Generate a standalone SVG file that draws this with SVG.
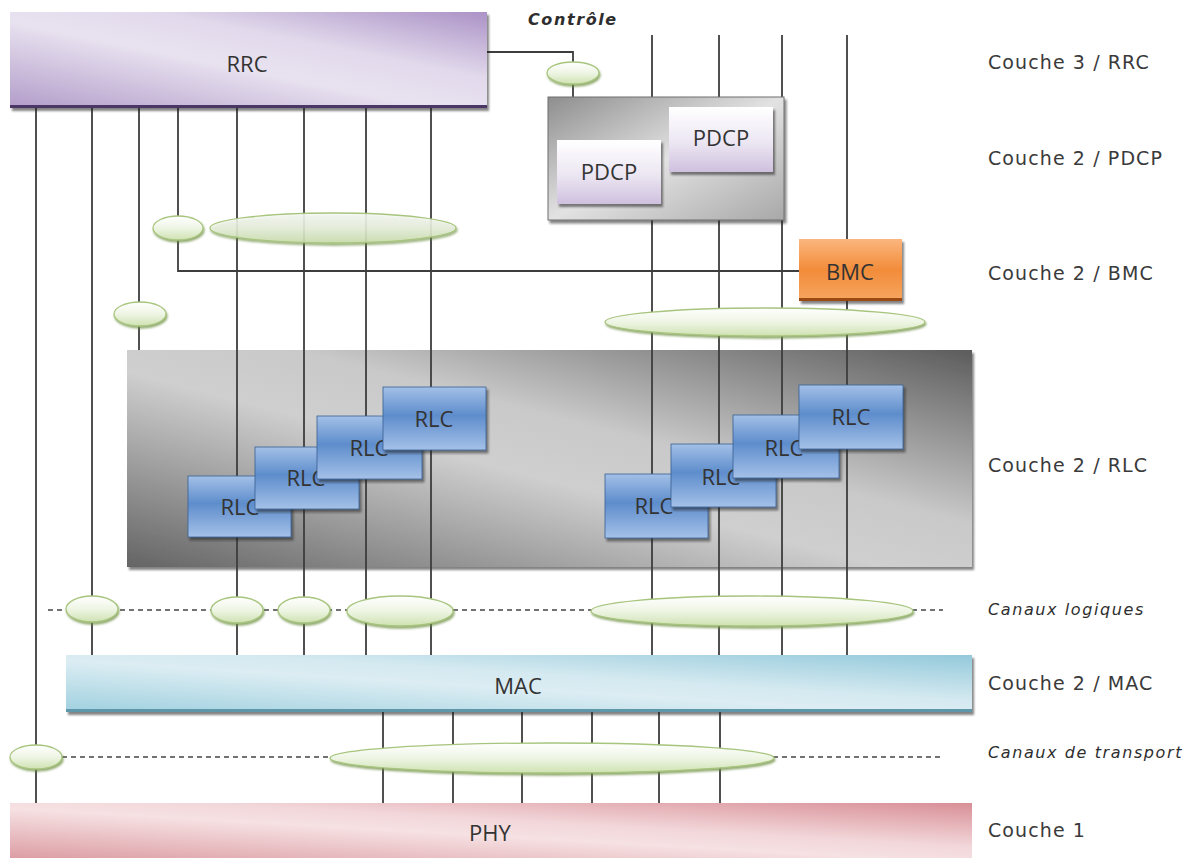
<svg xmlns="http://www.w3.org/2000/svg" width="1192" height="861" viewBox="0 0 1192 861">
<defs>
  <linearGradient id="gRRC" x1="0" y1="1" x2="1" y2="0">
    <stop offset="0" stop-color="#b29cc9"/>
    <stop offset="0.45" stop-color="#e8e2f0"/>
    <stop offset="0.65" stop-color="#e2daec"/>
    <stop offset="1" stop-color="#ab92c6"/>
  </linearGradient>
  <linearGradient id="gRLCArea" x1="0" y1="1" x2="1" y2="0">
    <stop offset="0" stop-color="#646464"/>
    <stop offset="0.45" stop-color="#cfcfcf"/>
    <stop offset="0.6" stop-color="#c9c9c9"/>
    <stop offset="1" stop-color="#5c5c5c"/>
  </linearGradient>
  <linearGradient id="gPDCPArea" x1="0" y1="0" x2="1" y2="1">
    <stop offset="0" stop-color="#8e8e8e"/>
    <stop offset="0.5" stop-color="#e2e2e2"/>
    <stop offset="1" stop-color="#a8a8a8"/>
  </linearGradient>
  <linearGradient id="gPDCP" x1="0" y1="0" x2="0" y2="1">
    <stop offset="0" stop-color="#ffffff"/>
    <stop offset="0.55" stop-color="#ece6f2"/>
    <stop offset="1" stop-color="#cfc0de"/>
  </linearGradient>
  <linearGradient id="gRLC" x1="0" y1="0" x2="0" y2="1">
    <stop offset="0" stop-color="#a3c0e7"/>
    <stop offset="0.45" stop-color="#5e8dcc"/>
    <stop offset="1" stop-color="#a4c1e8"/>
  </linearGradient>
  <linearGradient id="gBMC" x1="0" y1="0" x2="0" y2="1">
    <stop offset="0" stop-color="#fbb67e"/>
    <stop offset="0.5" stop-color="#f28c3a"/>
    <stop offset="1" stop-color="#f7a660"/>
  </linearGradient>
  <linearGradient id="gMAC" x1="0" y1="1" x2="1" y2="0">
    <stop offset="0" stop-color="#9fd0df"/>
    <stop offset="0.45" stop-color="#dcedf3"/>
    <stop offset="0.6" stop-color="#d4e9f0"/>
    <stop offset="1" stop-color="#93c9db"/>
  </linearGradient>
  <linearGradient id="gPHY" x1="0" y1="1" x2="1" y2="0">
    <stop offset="0" stop-color="#dc9ea4"/>
    <stop offset="0.45" stop-color="#f6e1e3"/>
    <stop offset="0.6" stop-color="#f2d7da"/>
    <stop offset="1" stop-color="#d88f96"/>
  </linearGradient>
  <linearGradient id="gEll" x1="0" y1="0" x2="0" y2="1">
    <stop offset="0" stop-color="#ffffff"/>
    <stop offset="0.5" stop-color="#eef5e4"/>
    <stop offset="1" stop-color="#cfe2b2"/>
  </linearGradient>
  <filter id="shBox" x="-5%" y="-10%" width="110%" height="130%">
    <feDropShadow dx="2" dy="3" stdDeviation="1.2" flood-color="#202020" flood-opacity="0.55"/>
  </filter>
  <filter id="shEll" x="-10%" y="-30%" width="120%" height="170%">
    <feDropShadow dx="1" dy="2" stdDeviation="1" flood-color="#6d8f40" flood-opacity="0.75"/>
  </filter>
  <style>
    .ln{stroke:#3d3d3d;stroke-width:1.8;fill:none}
    .dash{stroke:#444;stroke-width:1.6;stroke-dasharray:5 4;fill:none}
    .ell{fill:url(#gEll);stroke:#a8c57e;stroke-width:1.3;filter:url(#shEll)}
    .t{font-family:"Open Sans","Liberation Sans",sans-serif;fill:#333;text-anchor:middle;dominant-baseline:central}
    .big{font-size:22px}
    .lab{font-family:"DejaVu Sans","Liberation Sans",sans-serif;fill:#3a3a3a;font-size:19px;letter-spacing:1.1px;dominant-baseline:central}
    .it{font-family:"DejaVu Sans","Liberation Sans",sans-serif;fill:#2e2e2e;font-size:16px;font-style:italic;letter-spacing:1.6px;dominant-baseline:central}
    .rlc{fill:url(#gRLC);stroke:#3a5f92;stroke-width:0.8;filter:url(#shBox)}
  </style>
</defs>
<rect width="1192" height="861" fill="#ffffff"/>

<g id="rlc-area">
  <rect x="127" y="350" width="845" height="217" fill="url(#gRLCArea)" filter="url(#shBox)"/>
</g>

<g id="connectors">
  <path class="ln" d="M487,52 H573 V97"/>
  <path class="ln" d="M36,108 V803"/>
  <path class="ln" d="M92,108 V655"/>
  <path class="ln" d="M139,108 V350"/>
  <path class="ln" d="M178,108 V271 H799"/>
  <path class="ln" d="M237,108 V655"/>
  <path class="ln" d="M304,108 V655"/>
  <path class="ln" d="M366,108 V655"/>
  <path class="ln" d="M431,108 V655"/>
  <path class="ln" d="M652,35 V655"/>
  <path class="ln" d="M719,35 V655"/>
  <path class="ln" d="M782,35 V655"/>
  <path class="ln" d="M847,35 V655"/>
  <path class="ln" d="M383,712 V803"/>
  <path class="ln" d="M453,712 V803"/>
  <path class="ln" d="M522,712 V803"/>
  <path class="ln" d="M592,712 V803"/>
  <path class="ln" d="M659,712 V803"/>
  <path class="ln" d="M720,712 V803"/>
  <path class="dash" d="M48,610 H943"/>
  <path class="dash" d="M62,757 H943"/>
</g>

<g id="rrc">
  <rect x="10" y="12" width="477" height="96" fill="url(#gRRC)" filter="url(#shBox)"/>
  <rect x="10" y="105" width="477" height="3" fill="#4b3766"/>
  <text class="t big" x="247" y="63">RRC</text>
</g>

<g id="pdcp-area">
  <rect x="548" y="97" width="236" height="123" fill="url(#gPDCPArea)" stroke="#6e6e6e" stroke-width="1" filter="url(#shBox)"/>
</g>
<g id="pdcp-1">
  <rect x="557" y="140" width="104" height="64" fill="url(#gPDCP)" filter="url(#shBox)"/>
  <text class="t big" x="609" y="171">PDCP</text>
</g>
<g id="pdcp-2">
  <rect x="669" y="107" width="104" height="65" fill="url(#gPDCP)" filter="url(#shBox)"/>
  <text class="t big" x="721" y="137">PDCP</text>
</g>

<g id="bmc">
  <rect x="799" y="239" width="103" height="62" fill="url(#gBMC)" filter="url(#shBox)"/>
  <rect x="799" y="298" width="103" height="3" fill="#9a4a12"/>
  <text class="t big" x="850" y="271">BMC</text>
</g>

<g id="rlc-left-1"><rect class="rlc" x="188" y="476" width="103" height="61"/><text class="t big" x="240" y="506">RLC</text></g>
<g id="rlc-left-2"><rect class="rlc" x="255" y="447" width="104" height="62"/><text class="t big" x="306" y="477">RLC</text></g>
<g id="rlc-left-3"><rect class="rlc" x="317" y="416" width="105" height="63"/><text class="t big" x="369" y="447">RLC</text></g>
<g id="rlc-left-4"><rect class="rlc" x="383" y="387" width="103" height="63"/><text class="t big" x="434" y="418">RLC</text></g>

<g id="rlc-right-1"><rect class="rlc" x="605" y="474" width="103" height="64"/><text class="t big" x="654" y="505">RLC</text></g>
<g id="rlc-right-2"><rect class="rlc" x="671" y="444" width="105" height="63"/><text class="t big" x="721" y="476">RLC</text></g>
<g id="rlc-right-3"><rect class="rlc" x="733" y="415" width="106" height="63"/><text class="t big" x="784" y="447">RLC</text></g>
<g id="rlc-right-4"><rect class="rlc" x="799" y="385" width="104" height="64"/><text class="t big" x="851" y="416">RLC</text></g>

<g id="mac">
  <rect x="66" y="655" width="906" height="57" fill="url(#gMAC)" filter="url(#shBox)"/>
  <rect x="66" y="709" width="906" height="3" fill="#5f97aa"/>
  <text class="t big" x="518" y="685">MAC</text>
</g>

<g id="phy">
  <rect x="10" y="803" width="962" height="55" fill="url(#gPHY)"/>
  <text class="t big" x="490" y="832">PHY</text>
</g>

<g id="channels">
  <ellipse id="ch-control" class="ell" cx="573" cy="73" rx="26" ry="11"/>
  <ellipse id="ch-bmc-ctrl" class="ell" cx="178" cy="228" rx="25" ry="12"/>
  <ellipse id="ch-pdcp-left" class="ell" cx="333" cy="228" rx="123" ry="15" fill-opacity="0.8"/>
  <ellipse id="ch-rlc-ctrl" class="ell" cx="140" cy="314" rx="26" ry="12"/>
  <ellipse id="ch-pdcp-right" class="ell" cx="765" cy="322" rx="160" ry="14"/>
  <ellipse id="lc-1" class="ell" cx="92" cy="609" rx="26" ry="13"/>
  <ellipse id="lc-2" class="ell" cx="237" cy="610" rx="26" ry="13"/>
  <ellipse id="lc-3" class="ell" cx="304" cy="610" rx="26" ry="13"/>
  <ellipse id="lc-4" class="ell" cx="400" cy="611" rx="53" ry="15"/>
  <ellipse id="lc-5" class="ell" cx="752" cy="611" rx="161" ry="15"/>
  <ellipse id="tc-1" class="ell" cx="36" cy="757" rx="26" ry="12"/>
  <ellipse id="tc-2" class="ell" cx="552" cy="758" rx="222" ry="15"/>
</g>

<g id="labels">
  <text class="it" x="528" y="19" font-weight="bold" letter-spacing="0">Contrôle</text>
  <text class="lab" x="988" y="62">Couche 3 / RRC</text>
  <text class="lab" x="988" y="158">Couche 2 / PDCP</text>
  <text class="lab" x="988" y="273">Couche 2 / BMC</text>
  <text class="lab" x="988" y="465">Couche 2 / RLC</text>
  <text class="it" x="988" y="609">Canaux logiques</text>
  <text class="lab" x="988" y="683">Couche 2 / MAC</text>
  <text class="it" x="988" y="752">Canaux de transport</text>
  <text class="lab" x="988" y="830">Couche 1</text>
</g>
</svg>
